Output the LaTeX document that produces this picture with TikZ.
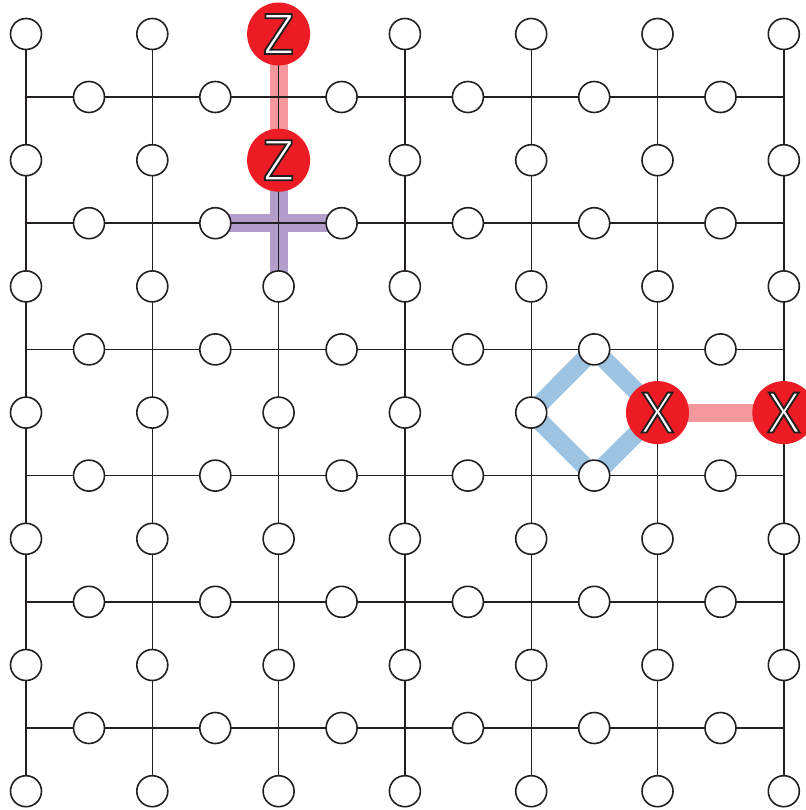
\documentclass[tikz,border=0pt]{standalone}
\usepackage{fontspec}
\setmainfont{Open Sans}
\usetikzlibrary{backgrounds}
\definecolor{qred}{HTML}{ED1C24}
\definecolor{qpink}{HTML}{F5989D}
\definecolor{qpurple}{HTML}{B29DCB}
\definecolor{qblue}{HTML}{9DC3E3}
\definecolor{qline}{HTML}{231F20}
% white letter with a thin dark outline (PDF text render mode 2: fill and stroke)
\newcommand\olet[1]{{\color{white}\special{pdf:literal direct 0.137 0.122 0.125 RG 1.8 w 2 Tr}#1\special{pdf:literal direct 0 Tr}}}
\begin{document}
\begin{tikzpicture}[x=1pt,y=-1pt,
  gridline/.style={line width=1.4pt, draw=qline},
  qubit/.style={circle, draw=qline, fill=white, line width=1.6pt, minimum size=31pt, inner sep=0pt},
  redq/.style={circle, fill=qred, minimum size=63pt, inner sep=0pt, font=\fontsize{56}{56}\selectfont},
  band/.style={line width=18pt},
]
\useasboundingbox (0,0) rectangle (805,810);
% vertex qubits
\foreach \i in {0,...,6} \foreach \j in {0,...,6} {
  \pgfmathtruncatemacro\isred{(\i==2 && \j<2) || (\i>4 && \j==3)}
  \ifnum\isred=0 \node[qubit] (v-\i-\j) at ({26+126.3*\i},{34+126.2*\j}) {}; \fi
}
% red qubits
\node[redq] (v-2-0) at ({26+126.3*2},34) {\olet{Z}};
\node[redq] (v-2-1) at ({26+126.3*2},{34+126.2}) {\olet{Z}};
\node[redq] (v-5-3) at ({26+126.3*5},{34+126.2*3}) {\olet{X}};
\node[redq] (v-6-3) at ({26+126.3*6},{34+126.2*3}) {\olet{X}};
% edge qubits
\foreach \i in {0,...,5} \foreach \k in {0,...,5}
  \node[qubit] (h-\i-\k) at ({89+126.3*\i},{97+126.2*\k}) {};
\foreach \k in {0,...,5} {
  \coordinate (L-\k) at (26,{97+126.2*\k});
  \coordinate (R-\k) at ({26+126.3*6},{97+126.2*\k});
}
\begin{scope}[on background layer]
  \draw[band, qpink] (v-2-0.center) -- (v-2-1.center);
  \draw[band, qpink] (v-5-3.center) -- (v-6-3.center);
  \draw[band, qpurple] (v-2-1.center) -- (v-2-2.center);
  \draw[band, qpurple] (h-1-1.center) -- (h-2-1.center);
  \draw[band, qblue, line join=round] (h-4-2.center) -- (v-4-3.center) -- (h-4-3.center) -- (v-5-3.center) -- cycle;
  \foreach \i in {0,...,6} \draw[gridline] (v-\i-0.center) -- (v-\i-6.center);
  \foreach \k in {0,...,5} \draw[gridline] (L-\k) -- (R-\k);
\end{scope}
\end{tikzpicture}
\end{document}
